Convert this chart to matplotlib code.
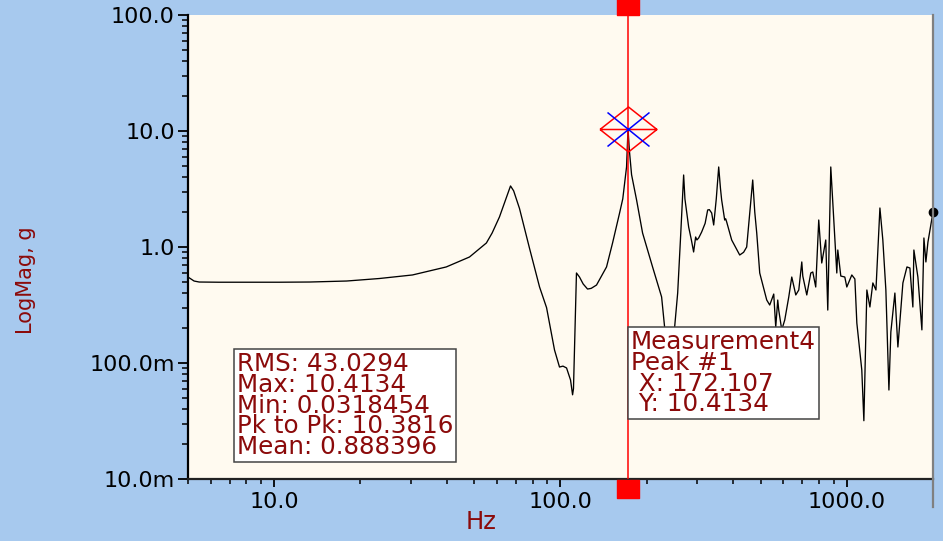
import matplotlib
matplotlib.use("Agg")
import matplotlib.pyplot as plt
from matplotlib.path import Path
from matplotlib.ticker import NullFormatter
import matplotlib.transforms as mtransforms

# ---------------- data ----------------
freq_hz = [5.0, 5.25, 5.47, 6.4, 8.2, 10.4, 13.3, 17.9, 23.3, 30.4, 39.9, 48.1, 55.1,
           57.7, 61.2, 63.7, 66.9, 68.6, 71.9, 77.9, 84.5, 89.4, 95.3, 99.2, 102.0, 105.0,
           108.4, 110.2, 111.0, 113.7, 116.5, 120.0, 124.3, 128.0, 133.6, 144.8, 152.0,
           160.8, 165.0, 170.1, 172.107, 174.0, 177.1, 184.4, 193.5, 209.7, 225.5, 231.0,
           240.5, 250.4, 256.6, 263.0, 269.2, 272.0, 275.8, 280.3, 286.5, 291.7, 296.5,
           299.5, 303.8, 311.2, 320.0, 326.6, 331.0, 337.3, 342.8, 350.0, 356.9, 362.0,
           365.5, 374.5, 377.5, 380.6, 396.2, 422.6, 436.0, 447.0, 460.0, 469.2, 477.0,
           484.6, 496.4, 525.2, 538.0, 555.6, 564.6, 573.8, 578.4, 592.6, 607.1, 627.0,
           642.3, 663.4, 679.6, 696.2, 701.8, 724.7, 748.5, 760.6, 778.8, 797.9, 817.4,
           844.2, 858.0, 879.0, 922.6, 930.1, 952.8, 984.0, 1000.0, 1041.0, 1067.0,
           1084.0, 1128.0, 1147.0, 1175.0, 1204.0, 1233.0, 1264.0, 1305.0, 1336.0,
           1369.0, 1403.0, 1425.0, 1472.0, 1508.0, 1570.0, 1622.0, 1661.0, 1701.0,
           1715.0, 1771.0, 1785.0, 1829.0, 1859.0, 1889.0, 1920.0, 2000.0]
mag_g = [0.551, 0.509, 0.499, 0.497, 0.497, 0.497, 0.499, 0.509, 0.535, 0.574, 0.673,
         0.82, 1.083, 1.32, 1.814, 2.39, 3.36, 3.05, 2.15, 0.98, 0.452, 0.30, 0.1295, 0.0923,
         0.094, 0.0906, 0.0714, 0.0532, 0.06, 0.597, 0.551, 0.48, 0.434, 0.44, 0.470,
         0.673, 1.083, 1.96, 2.6, 4.9, 10.4134, 6.8, 4.2, 2.54, 1.32, 0.673, 0.371,
         0.204, 0.10, 0.204, 0.401, 1.3, 4.175, 2.6, 2.003, 1.487, 1.15, 0.906, 1.22,
         1.15, 1.196, 1.347, 1.6, 2.084, 2.1, 1.964, 1.548, 2.6, 4.896, 3.2, 2.54,
         1.709, 1.75, 1.642, 1.149, 0.853, 0.9, 1.0, 2.2, 3.78, 2.0, 1.32, 0.597,
         0.349, 0.316, 0.393, 0.204, 0.349, 0.286, 0.193, 0.235, 0.371, 0.551, 0.386,
         0.426, 0.743, 0.562, 0.386, 0.597, 0.609, 0.452, 1.709, 0.728, 1.149, 0.286,
         4.896, 0.597, 0.942, 0.562, 0.551, 0.452, 0.574, 0.530, 0.221, 0.0871, 0.0318,
         0.426, 0.304, 0.490, 0.426, 2.169, 1.149, 0.426, 0.0585, 0.185, 0.401, 0.1374,
         0.490, 0.673, 0.659, 0.304, 0.942, 0.551, 0.426, 0.193, 1.196, 0.743, 1.1, 2.0]

peak_x = 172.107
peak_y = 10.4134

y_ticks = [0.01, 0.1, 1.0, 10.0, 100.0]
y_tick_labels = ["10.0m", "100.0m", "1.0", "10.0", "100.0"]
x_ticks = [10.0, 100.0, 1000.0]
x_tick_labels = ["10.0", "100.0", "1000.0"]

stats_lines = ["RMS: 43.0294", "Max: 10.4134", "Min: 0.0318454",
               "Pk to Pk: 10.3816", "Mean: 0.888396"]
marker_lines = ["Measurement4", "Peak #1", " X: 172.107", " Y: 10.4134"]

x_label = "Hz"
y_label = "LogMag, g"

# ---------------- style ----------------
BLUE_BG = "#A7C9EE"
CREAM = "#FFFAF0"
DARK_RED = "#8B0A0A"
W, H = 943, 541

fig = plt.figure(figsize=(W / 100, H / 100), dpi=100, facecolor=BLUE_BG)
ax = fig.add_axes([188 / W, 62 / H, 745 / W, 464 / H])
ax.set_facecolor(CREAM)
ax.set_xscale("log")
ax.set_yscale("log")
ax.set_xlim(5, 2000)
ax.set_ylim(0.01, 100)

ax.plot(freq_hz, mag_g, color="black", lw=0.95, zorder=2)

# cursor
ax.axvline(peak_x, color="red", lw=1.1, zorder=3)
blend = mtransforms.blended_transform_factory(ax.transData, ax.transAxes)
rect_path = Path([(-11, -9), (11, -9), (11, 9), (-11, 9), (-11, -9)],
                 [Path.MOVETO, Path.LINETO, Path.LINETO, Path.LINETO, Path.CLOSEPOLY])
for yy in (1.0 + 9 / 464, -10 / 464):
    ax.plot([peak_x], [yy], marker=rect_path, markersize=22 * 0.72, color="red",
            mec="red", transform=blend, clip_on=False, zorder=5, ls="none")

# diamond and X marker at peak
diamond = Path([(-28.5, 0), (0, 22.5), (28.5, 0), (0, -22.5), (-28.5, 0), (-28.5, 0), (28.5, 0)],
               [Path.MOVETO, Path.LINETO, Path.LINETO, Path.LINETO, Path.LINETO,
                Path.MOVETO, Path.LINETO])
ax.plot([peak_x], [peak_y], marker=diamond, markersize=57 * 0.72, mfc="none",
        mec="red", mew=1.1, ls="none", zorder=4)
xcross = Path([(-21, -17), (21, 17), (-21, 17), (21, -17)],
              [Path.MOVETO, Path.LINETO, Path.MOVETO, Path.LINETO])
ax.plot([peak_x], [peak_y], marker=xcross, markersize=42 * 0.72, mfc="none",
        mec="blue", mew=1.1, ls="none", zorder=4)

# end dot
ax.plot([freq_hz[-1]], [mag_g[-1]], marker="o", markersize=6, color="black",
        ls="none", clip_on=False, zorder=5)

# ticks
ax.set_yticks(y_ticks, y_tick_labels)
ax.set_xticks(x_ticks, x_tick_labels)
ax.xaxis.set_minor_formatter(NullFormatter())
ax.yaxis.set_minor_formatter(NullFormatter())
ax.tick_params(which="major", direction="out", length=7.5, width=1.3, labelsize=16,
               colors="black", pad=2)
ax.tick_params(which="minor", direction="out", length=4.3, width=1.1)
ax.tick_params(axis="x", which="major", length=6, pad=3)
ax.tick_params(axis="x", which="minor", length=3.5)
ax.tick_params(top=False, right=False)

for s in ("top", "right"):
    ax.spines[s].set_visible(False)
ax.spines["left"].set_linewidth(1.6)
ax.spines["left"].set_color("black")
ax.spines["bottom"].set_linewidth(1.6)
ax.spines["bottom"].set_color("#222222")
ax.plot([1, 1], [-28 / 464, 1], color="#808080", lw=1.6, transform=ax.transAxes,
        clip_on=False, zorder=6)

# axis labels
fig.text(26 / W, 1 - 280 / H, y_label, rotation=90, color=DARK_RED, fontsize=15,
         ha="center", va="center")
fig.text(481 / W, 1 - 522 / H, x_label, color=DARK_RED, fontsize=17.5,
         ha="center", va="center")

# info boxes
box_kw = dict(boxstyle="square,pad=0.12", facecolor="white", edgecolor="#444444", lw=1.1)
fig.text(237 / W, 1 - 352 / H, "\n".join(stats_lines), color=DARK_RED, fontsize=17.7,
         ha="left", va="top", linespacing=0.83, bbox=box_kw, zorder=10)
fig.text(631 / W, 1 - 330 / H, "\n".join(marker_lines), color=DARK_RED, fontsize=17.7,
         ha="left", va="top", linespacing=0.83, bbox=box_kw, zorder=10)

fig.savefig("out.png", dpi=100, facecolor=BLUE_BG)
